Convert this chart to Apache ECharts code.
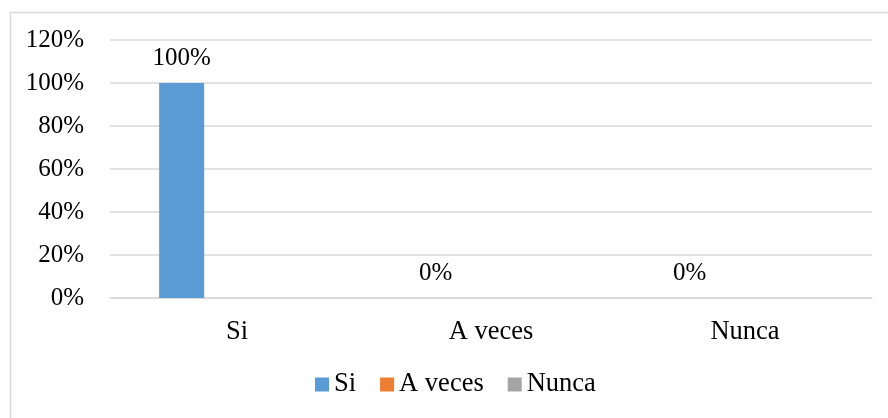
<!DOCTYPE html>
<html>
<head>
<meta charset="utf-8">
<script src="https://cdn.jsdelivr.net/npm/echarts@6/dist/echarts.min.js"></script>
<style>
  html, body { margin: 0; padding: 0; background: #fff; }
  #chart { width: 888px; height: 418px; }
</style>
</head>
<body>
<div id="chart"></div>
<script>
const categories = ['Si', 'A veces', 'Nunca']
const seriesNames = ['Si', 'A veces', 'Nunca']
const siValues = [100, 0, 0]
const aVecesValues = ['-', '-', '-']
const nuncaValues = ['-', '-', '-']
const yTicks = { min: 0, max: 120, interval: 20 }
const colors = ['#5B9BD5', '#ED7D31', '#A5A5A5']

const font = 'Liberation Serif'
const chart = echarts.init(document.getElementById('chart'))

const option = {
  animation: false,
  color: colors,
  textStyle: { fontFamily: font },
  graphic: [
    {
      type: 'rect',
      left: 8,
      top: 10,
      shape: { width: 900, height: 420 },
      style: { fill: 'none', stroke: '#d9d9d9', lineWidth: 1.5 },
      silent: true,
    },
  ],
  grid: { left: 110, right: 16, top: 40, bottom: 120 },
  legend: {
    data: seriesNames,
    left: 315,
    top: 371,
    padding: 0,
    icon: 'rect',
    itemWidth: 14,
    itemHeight: 14,
    itemGap: 24,
    textStyle: { fontFamily: font, fontSize: 26.5, color: '#000' },
  },
  xAxis: {
    type: 'category',
    data: categories,
    axisLine: { lineStyle: { color: '#d9d9d9', width: 1.5 } },
    axisTick: { show: false },
    axisLabel: { fontFamily: font, fontSize: 26.5, color: '#000', margin: 21 },
  },
  yAxis: {
    type: 'value',
    min: yTicks.min,
    max: yTicks.max,
    interval: yTicks.interval,
    axisLine: { show: false },
    axisTick: { show: false },
    splitLine: { lineStyle: { color: '#d9d9d9', width: 1.5 } },
    axisLabel: { fontFamily: font, fontSize: 25, color: '#000', margin: 26, formatter: '{value}%' },
  },
  series: [
    {
      name: seriesNames[0],
      type: 'bar',
      data: siValues,
      barWidth: 45,
      barGap: '23%',
      label: {
        show: true,
        position: 'top',
        distance: 12,
        fontFamily: font,
        fontSize: 25,
        color: '#000',
        formatter: '{c}%',
      },
    },
    { name: seriesNames[1], type: 'bar', data: aVecesValues, barWidth: 45, barGap: '23%' },
    { name: seriesNames[2], type: 'bar', data: nuncaValues, barWidth: 45, barGap: '23%' },
  ],
}

chart.setOption(option)
</script>
</body>
</html>
